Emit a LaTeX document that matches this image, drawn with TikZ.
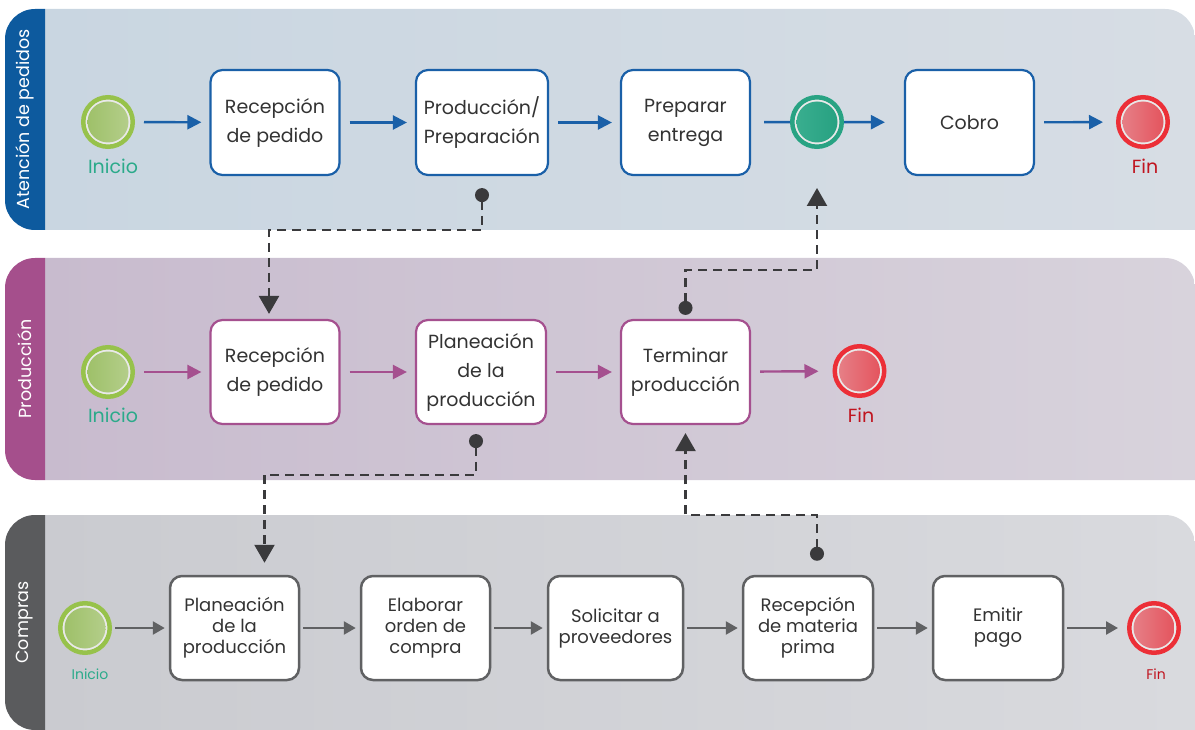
\documentclass[tikz,border=0pt]{standalone}
\usepackage{fontspec}
\setmainfont{Poppins}
\usetikzlibrary{arrows.meta,calc}

% palette
\definecolor{laneblue}{HTML}{0D5A9E}
\definecolor{flowblue}{HTML}{1A60A8}
\definecolor{lanepurple}{HTML}{A54F8C}
\definecolor{flowpurple}{HTML}{A5508F}
\definecolor{lanegrey}{HTML}{5A5B5D}
\definecolor{flowgrey}{HTML}{606163}
\definecolor{bgblueL}{HTML}{C9D6E1}
\definecolor{bgblueR}{HTML}{D7DDE4}
\definecolor{bgpurpL}{HTML}{C8BBCE}
\definecolor{bgpurpR}{HTML}{D8D3DC}
\definecolor{bggreyL}{HTML}{CACBD0}
\definecolor{bggreyR}{HTML}{D9DADE}
\definecolor{txt}{HTML}{333333}
\definecolor{msgc}{HTML}{3A3A3C}
\definecolor{startring}{HTML}{97C24B}
\definecolor{startL}{HTML}{9CBF66}
\definecolor{startR}{HTML}{B6CF8D}
\definecolor{midring}{HTML}{28A383}
\definecolor{midL}{HTML}{3BAF90}
\definecolor{midR}{HTML}{25A080}
\definecolor{endring}{HTML}{EC2F37}
\definecolor{endL}{HTML}{E6838A}
\definecolor{endR}{HTML}{E4505A}
\definecolor{iniciocol}{HTML}{2BAA8A}
\definecolor{fincol}{HTML}{C0141F}
\definecolor{ringwhite}{HTML}{E9E9E9}

% swimlane: top, bottom, tab colour, left bg, right bg, label name, label text
\newcommand\swimlane[7]{%
  \shade[left color=#4, right color=#5] (45,#1) -- (1165,#1)
    arc[start angle=-90, end angle=0, radius=30] -- (1195,#2) -- (45,#2) -- cycle;
  \fill[#3] (45,#1) -- (35,#1) arc[start angle=-90, end angle=-180, radius=30]
    -- (5,{#2-30}) arc[start angle=180, end angle=90, radius=30] -- (45,#2) -- cycle;
  \node[lanelabel] (#6) at (25,{(#1+#2)/2}) {#7};
}

\begin{document}
\begin{tikzpicture}[x=1pt, y=-1pt,
  lanelabel/.style={rotate=90, text=white, font=\fontsize{17.5}{20}\selectfont},
  task/.style={draw=#1, line width=2.2pt, fill=white, rounded corners=12pt,
    minimum width=129pt, minimum height=105pt, inner sep=0pt, align=center,
    text=txt, font=\fontsize{19}{29}\selectfont},
  smalltask/.style={task=#1, line width=2.5pt, minimum height=104pt,
    font=\fontsize{18}{21}\selectfont},
  event/.style n args={3}{circle, inner sep=0pt, minimum size=49.5pt,
    draw=#1, line width=4.5pt, fill=ringwhite,
    path picture={\shade[left color=#2, right color=#3]
      (path picture bounding box.center) circle[radius=20.5];}},
  startev/.style={event={startring}{startL}{startR}},
  midev/.style={event={midring}{midL}{midR}},
  endev/.style={event={endring}{endL}{endR}},
  iniciolbl/.style={text=iniciocol, font=\fontsize{19}{22}\selectfont, inner sep=0pt},
  finlbl/.style={text=fincol, font=\fontsize{19}{22}\selectfont, inner sep=0pt},
  flow/.style={draw=#1, line width=2.4pt, -{Triangle[length=14pt, width=14pt]},
    shorten <=9pt, shorten >=8pt},
  smallflow/.style={draw=#1, line width=2.6pt, -{Triangle[length=12pt, width=13pt]},
    shorten <=3pt, shorten >=4pt},
  msg/.style={draw=msgc, line width=2.4pt, dash pattern=on 9pt off 6pt,
    {Circle[length=14pt]}-{Triangle[length=18pt, width=20pt]}}
]
\useasboundingbox (0,0) rectangle (1195,730);

% lanes
\swimlane{9}{230}{laneblue}{bgblueL}{bgblueR}{laneA}{Atención de pedidos}
\swimlane{258}{480}{lanepurple}{bgpurpL}{bgpurpR}{laneB}{Producción}
\swimlane{515}{730}{lanegrey}{bggreyL}{bggreyR}{laneC}{Compras}

% lane A: order handling
\node[startev] (a0) at (108,122) {};
\node[iniciolbl] (a0l) at (113,166) {Inicio};
\node[task=flowblue] (a1) at (275,122.5) {Recepción\\de pedido};
\node[task=flowblue, minimum width=132pt] (a2) at (482,122.5) {Producción/\\Preparación};
\node[task=flowblue] (a3) at (685.5,122.5) {Preparar\\entrega};
\node[midev] (a4) at (817,122) {};
\node[task=flowblue] (a5) at (969.5,122.5) {Cobro};
\node[endev] (a6) at (1143,122) {};
\node[finlbl] (a6l) at (1145,166) {Fin};

\draw[flow=flowblue] (a0) -- (a1);
\draw[flow=flowblue] (a1) -- (a2);
\draw[flow=flowblue] (a2) -- (a3);
\draw[draw=flowblue, line width=2.4pt, shorten <=13pt] (a3) -- (a4);
\draw[flow=flowblue, shorten <=0pt, shorten >=19pt] (a4) -- (a5);
\draw[flow=flowblue, shorten >=13pt] (a5) -- (a6);

% lane B: production
\node[startev] (b0) at (108,372) {};
\node[iniciolbl] (b0l) at (113,415.5) {Inicio};
\node[task=flowpurple, minimum height=104pt] (b1) at (275,372) {Recepción\\de pedido};
\node[task=flowpurple, minimum height=104pt, minimum width=130pt] (b2) at (481,372) {Planeación\\de la\\producción};
\node[task=flowpurple, minimum height=104pt] (b3) at (685.5,372) {Terminar\\producción};
\node[endev] (b4) at (859.5,371) {};
\node[finlbl] (b4l) at (861,415.5) {Fin};

\draw[flow=flowpurple] (b0) -- (b1);
\draw[flow=flowpurple] (b1) -- (b2);
\draw[flow=flowpurple] (b2) -- (b3);
\draw[flow=flowpurple, shorten >=14pt] (b3) -- (b4);

% lane C: purchasing
\node[startev] (c0) at (85,628) {};
\node[iniciolbl, font=\fontsize{14}{16}\selectfont] (c0l) at (90,674) {Inicio};
\node[smalltask=flowgrey] (c1) at (234.5,628) {Planeación\\de la\\producción};
\node[smalltask=flowgrey] (c2) at (425.5,628) {Elaborar\\orden de\\compra};
\node[smalltask=flowgrey, minimum width=135pt] (c3) at (615.5,628) {Solicitar a\\proveedores};
\node[smalltask=flowgrey, minimum width=130pt] (c4) at (808,628) {Recepción\\de materia\\prima};
\node[smalltask=flowgrey, minimum width=130pt] (c5) at (998,628) {Emitir\\pago};
\node[endev] (c6) at (1154,628) {};
\node[finlbl, font=\fontsize{14}{16}\selectfont] (c6l) at (1156,674) {Fin};

\draw[smallflow=flowgrey] (c0) -- (c1);
\draw[smallflow=flowgrey] (c1) -- (c2);
\draw[smallflow=flowgrey] (c2) -- (c3);
\draw[smallflow=flowgrey] (c3) -- (c4);
\draw[smallflow=flowgrey] (c4) -- (c5);
\draw[smallflow=flowgrey, shorten >=9pt] (c5) -- (c6);

% message flows between lanes
\draw[msg] ($(a2.south)+(0,12)$) |- ($(b1.north)+(-6,-89)$) -- ($(b1.north)+(-6,-5)$);
\draw[msg] ($(b3.north)+(0,-4)$) |- ($(a4.south)+(0,121)$) -- ($(a4.south)+(0,39)$);
\draw[msg] ($(b2.south)+(-5,9)$) |- ($(c1.north)+(30,-100)$) -- ($(c1.north)+(30,-12)$);
\draw[msg] ($(c4.north)+(9,-14)$) |- ($(b3.south)+(0,90)$) -- ($(b3.south)+(0,8)$);
\end{tikzpicture}
\end{document}
